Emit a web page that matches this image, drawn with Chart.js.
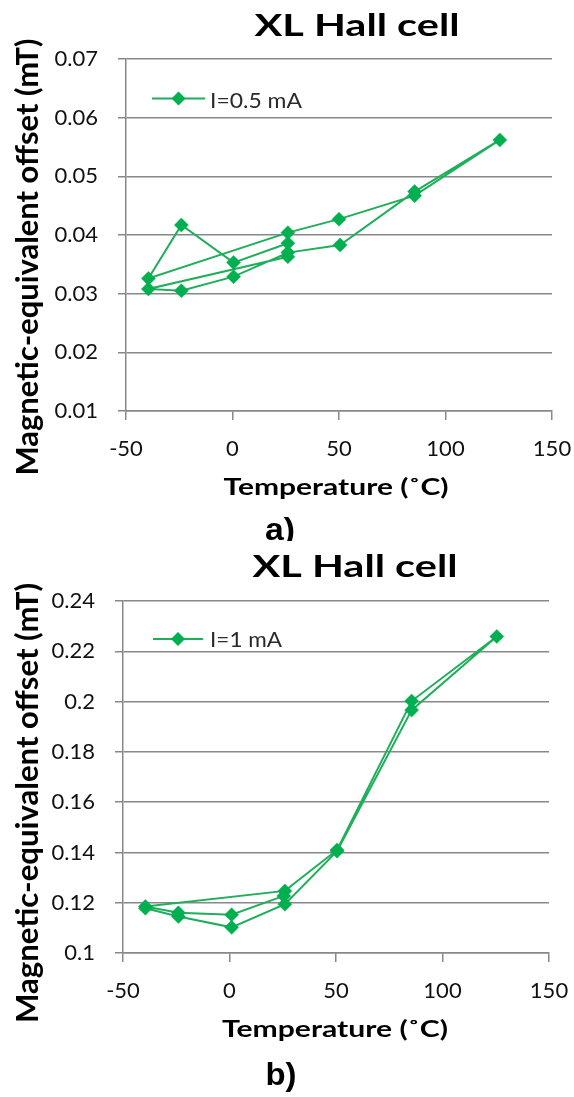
<!DOCTYPE html>
<html><head><meta charset="utf-8">
<script src="https://cdn.jsdelivr.net/npm/chart.js@4.4.1/dist/chart.umd.min.js"></script>
<style>
html,body{margin:0;padding:0;background:#fff;}
#wrap{position:relative;width:574px;height:1097px;overflow:hidden;}
canvas{position:absolute;left:0;}
</style></head><body>
<div id="wrap">
<canvas id="ca" width="574" height="541" style="top:0px"></canvas>
<canvas id="cb" width="574" height="556" style="top:541px"></canvas>
</div>
<script>
// ---- data ----
const tempA   = [26, 0.5, -24, -39.5, 26, 50, 85.5, 125.5, 85.5, 50.5, 26, 0.5, -24, -39.5, 26];
const offsetA = [0.0386, 0.0353, 0.0417, 0.0326, 0.0404, 0.0427, 0.0467, 0.0562, 0.0474, 0.0383, 0.0370, 0.0329, 0.0305, 0.0308, 0.0363];
const tempB   = [25.5, 1, -24, -39.5, 26, 50.5, 85.5, 125.5, 85.5, 50.5, 26, 1, -24, -39.5];
const offsetB = [0.1227, 0.1152, 0.1160, 0.1185, 0.1247, 0.1410, 0.2002, 0.2259, 0.1966, 0.1405, 0.1194, 0.1102, 0.1145, 0.1178];
const xTicks  = [-50, 0, 50, 100, 150];
const yTicksA = [0.01, 0.02, 0.03, 0.04, 0.05, 0.06, 0.07];
const yTicksB = [0.1, 0.12, 0.14, 0.16, 0.18, 0.2, 0.22, 0.24];
const seriesA = 'I=0.5 mA';
const seriesB = 'I=1 mA';
const chartTitle = 'XL Hall cell';
const xTitle = 'Temperature (\u02DAC)';
const yTitle = 'Magnetic-equivalent offset (mT)';
const panelA = 'a)';
const panelB = 'b)';

const GRID = '#888888';
const LINE = '#1fae5a';
const MARK = '#00b050';

function drawFitted(ctx, t) {
  ctx.save();
  ctx.font = (t.weight || 'normal') + ' ' + t.size + 'px ' + t.family;
  const m = ctx.measureText(t.text).width;
  const sx = t.w ? t.w / m : 1;
  ctx.translate(t.x, t.y);
  if (t.rot) ctx.rotate(t.rot);
  ctx.scale(sx, 1);
  ctx.textAlign = t.align || 'center';
  ctx.textBaseline = 'alphabetic';
  ctx.fillStyle = t.color || '#000';
  ctx.fillText(t.text, 0, 0);
  ctx.restore();
}

const textPlugin = {
  id: 'texts',
  afterDraw(chart, args, opts) {
    const ctx = chart.ctx;
    (opts.items || []).forEach(t => drawFitted(ctx, t));
    const L = opts.legend;
    if (L) {
      ctx.save();
      ctx.strokeStyle = LINE; ctx.lineWidth = 2;
      ctx.beginPath(); ctx.moveTo(L.x1, L.y); ctx.lineTo(L.x2, L.y); ctx.stroke();
      const cx = (L.x1 + L.x2) / 2, r = 7;
      ctx.fillStyle = MARK;
      ctx.beginPath();
      ctx.moveTo(cx - r, L.y); ctx.lineTo(cx, L.y - r); ctx.lineTo(cx + r, L.y); ctx.lineTo(cx, L.y + r);
      ctx.closePath(); ctx.fill();
      ctx.restore();
      drawFitted(ctx, {text: chart.data.datasets[0].label, x: L.tx, y: L.ty, size: 21, family: 'Lato', w: L.tw, align: 'left', color: '#2a2a2a'});
    }
  }
};

function build(id, H, temps, vals, yTicks, label, g, texts, legend) {
  const pts = temps.map((t, i) => ({x: t, y: vals[i]}));
  return new Chart(document.getElementById(id), {
    type: 'scatter',
    data: {datasets: [{
      label: label, data: pts, showLine: true,
      borderColor: LINE, borderWidth: 2,
      backgroundColor: MARK, pointBackgroundColor: MARK, pointBorderColor: MARK,
      pointStyle: 'rectRot', pointRadius: 7, pointBorderWidth: 0.5, tension: 0
    }]},
    options: {
      responsive: false, animation: false, devicePixelRatio: 1,
      layout: {padding: {left: 0, top: g.top, right: 574 - g.right, bottom: H - g.bottom - 60}},
      plugins: {
        legend: {display: false}, tooltip: {enabled: false}, title: {display: false},
        texts: {items: texts, legend: legend}
      },
      scales: {
        x: {
          type: 'linear', position: 'bottom', min: xTicks[0], max: xTicks[xTicks.length - 1],
          afterBuildTicks: s => { s.ticks = xTicks.map(v => ({value: v})); },
          afterFit: s => { s.height = 60; },
          grid: {drawOnChartArea: false, color: GRID, lineWidth: 1.5, tickLength: 9},
          border: {color: GRID, width: 1.5},
          ticks: {padding: 0, font: {family: 'Lato', size: 22, lineHeight: '58px'}, color: '#111',
                  maxRotation: 0, autoSkip: false, callback: v => String(v)}
        },
        y: {
          type: 'linear', min: yTicks[0], max: yTicks[yTicks.length - 1],
          afterBuildTicks: s => { s.ticks = yTicks.map(v => ({value: v})); },
          afterFit: s => { s.width = g.left; },
          grid: {color: GRID, lineWidth: 1.5, tickLength: 8},
          border: {color: GRID, width: 1.5},
          ticks: {padding: 20, font: {family: 'Lato', size: 22}, color: '#111', autoSkip: false,
                  callback: v => String(v)}
        }
      }
    },
    plugins: [textPlugin]
  });
}

function panelTexts(o) {
  return [
    {text: chartTitle, x: o.tx, y: o.ty, size: 30.5, weight: 'bold', family: 'Lato', w: o.tw},
    {text: yTitle, x: 38, y: o.yc, size: 30.5, weight: 'bold', family: 'Lato', w: o.yl, rot: -Math.PI / 2},
    {text: xTitle, x: o.xc, y: o.xb, size: 23.5, weight: 'bold', family: 'Lato', w: o.xw},
    {text: o.panel, x: o.pc, y: o.pb, size: 31, weight: 'bold', family: '"Liberation Sans"', w: o.pw}
  ];
}

build('ca', 541, tempA, offsetA, yTicksA, seriesA,
  {left: 126, right: 552, top: 59, bottom: 411},
  panelTexts({tx: 357, ty: 36, tw: 205, yc: 257, yl: 437, xc: 336, xb: 495, xw: 225, panel: panelA, pc: 280, pb: 540, pw: 30}),
  {x1: 152, x2: 205, y: 98.5, tx: 210, ty: 108, tw: 92});

build('cb', 556, tempB, offsetB, yTicksB, seriesB,
  {left: 123, right: 549, top: 60, bottom: 412},
  panelTexts({tx: 355, ty: 36, tw: 205, yc: 262, yl: 440, xc: 335, xb: 496, xw: 226, panel: panelB, pc: 281, pb: 544, pw: 31}),
  {x1: 153, x2: 203, y: 98, tx: 210, ty: 105.5, tw: 72});
</script>
</body></html>
